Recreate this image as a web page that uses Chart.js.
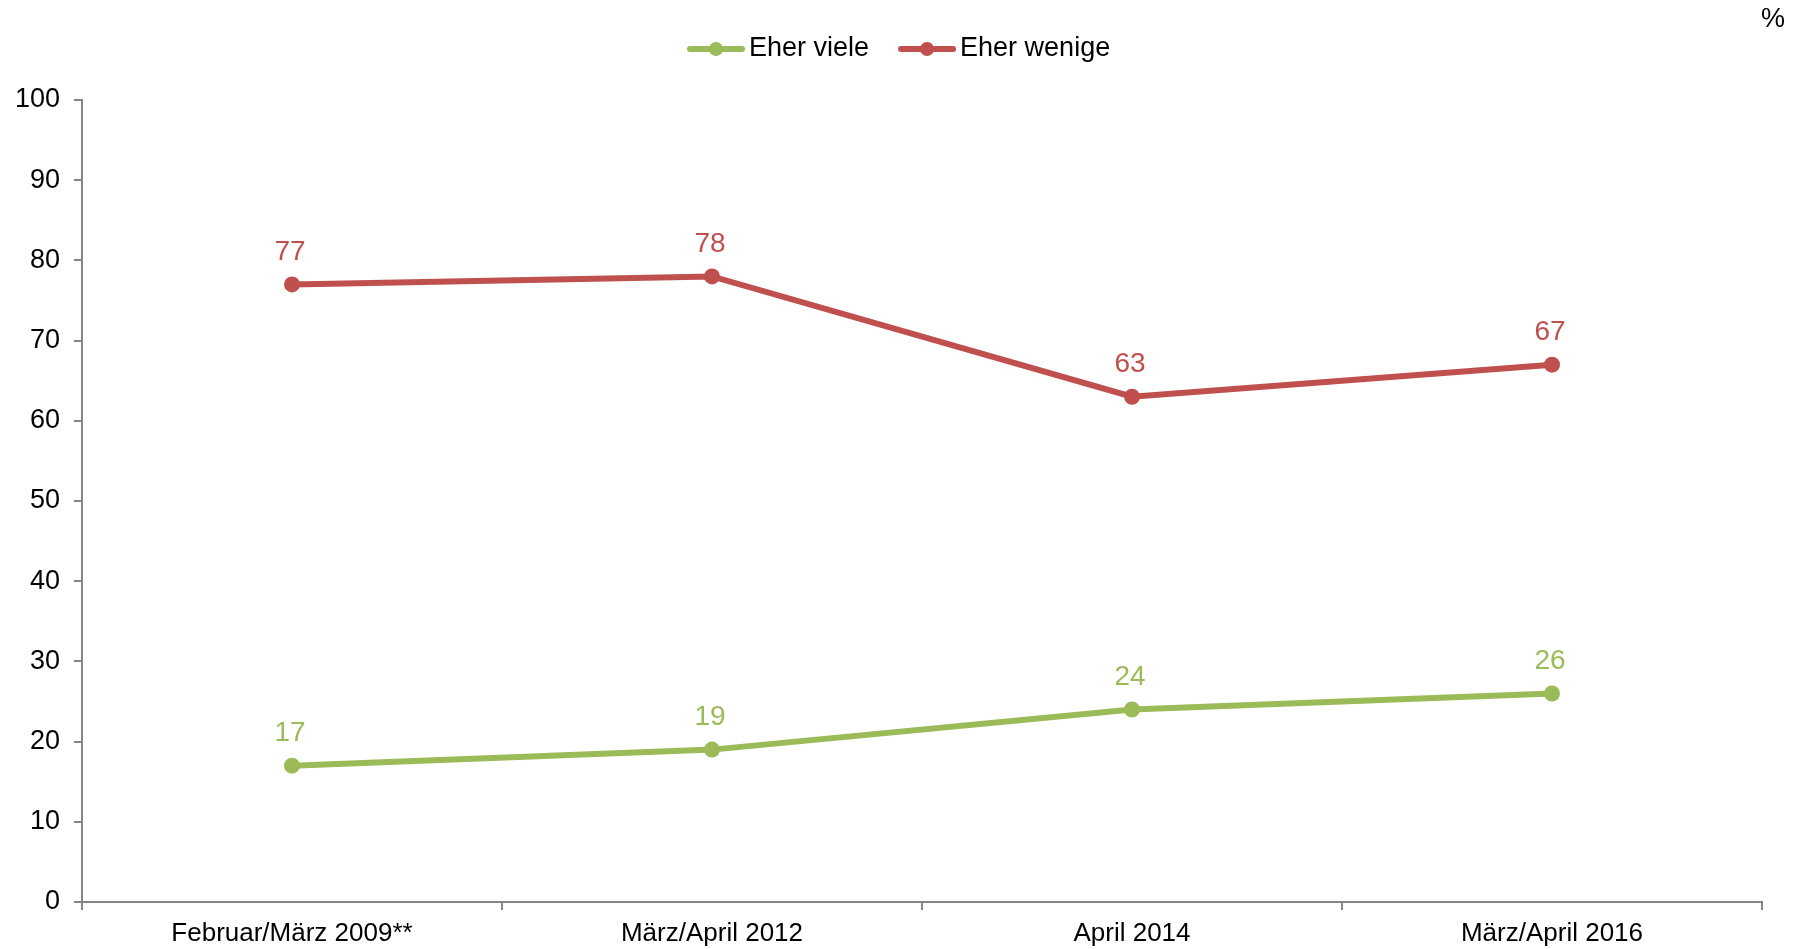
<!DOCTYPE html>
<html lang="de">
<head>
  <meta charset="UTF-8" />
  <title>Eher viele / Eher wenige</title>
  <script src="https://cdn.jsdelivr.net/npm/chart.js"></script>
  <style>
    body {
      margin: 0;
      background: #fff;
    }
    .chart-box {
      width: 1801px;
      height: 949px;
    }
  </style>
</head>
<body>
  <div class="chart-box"><canvas id="chart"></canvas></div>

  <script>
    // Daten
    const labels = ["Februar/März 2009**", "März/April 2012", "April 2014", "März/April 2016"];
    const eherViele = [17, 19, 24, 26];
    const eherWenige = [77, 78, 63, 67];
    const yTicks = [0, 10, 20, 30, 40, 50, 60, 70, 80, 90, 100];

    const FONT = "'Liberation Sans', Arial, sans-serif";
    const AXIS = "#868686";

    // Werte über den Punkten
    const valueLabels = {
      id: "valueLabels",
      afterDatasetsDraw(chart) {
        const ctx = chart.ctx;
        ctx.save();
        ctx.font = "28px " + FONT;
        ctx.textAlign = "center";
        ctx.textBaseline = "middle";
        chart.data.datasets.forEach((ds, i) => {
          chart.getDatasetMeta(i).data.forEach((pt, j) => {
            ctx.fillStyle = ds.borderColor;
            ctx.fillText(ds.data[j], pt.x - 2, pt.y - 32);
          });
        });
        ctx.restore();
      }
    };

    // Legende im Stil Linie + Punkt, und "%" oben rechts
    const lineLegend = {
      id: "lineLegend",
      afterDraw(chart) {
        const ctx = chart.ctx;
        ctx.save();
        ctx.font = "27px " + FONT;
        ctx.textBaseline = "middle";
        let x = 690;
        const y = 49;
        chart.data.datasets.forEach(ds => {
          ctx.strokeStyle = ds.borderColor;
          ctx.lineWidth = 6;
          ctx.lineCap = "round";
          ctx.beginPath();
          ctx.moveTo(x, y);
          ctx.lineTo(x + 52, y);
          ctx.stroke();
          ctx.fillStyle = ds.borderColor;
          ctx.beginPath();
          ctx.arc(x + 26, y, 7, 0, Math.PI * 2);
          ctx.fill();
          ctx.fillStyle = "#000";
          ctx.textAlign = "left";
          ctx.fillText(ds.label, x + 59, y);
          x += 59 + ctx.measureText(ds.label).width + 32;
        });
        ctx.textAlign = "center";
        ctx.fillText("%", 1773, 20);
        ctx.restore();
      }
    };

    new Chart(document.getElementById("chart"), {
      type: "line",
      data: {
        labels: labels,
        datasets: [
          {
            label: "Eher viele",
            data: eherViele,
            borderColor: "#9BBB59",
            backgroundColor: "#9BBB59",
            borderWidth: 6,
            pointRadius: 8,
            pointBorderWidth: 0,
            tension: 0
          },
          {
            label: "Eher wenige",
            data: eherWenige,
            borderColor: "#C0504D",
            backgroundColor: "#C0504D",
            borderWidth: 6,
            pointRadius: 8,
            pointBorderWidth: 0,
            tension: 0
          }
        ]
      },
      options: {
        responsive: true,
        maintainAspectRatio: false,
        animation: false,
        layout: { padding: { top: 100, right: 39, left: 0, bottom: 0 } },
        plugins: {
          legend: { display: false },
          tooltip: { enabled: false }
        },
        scales: {
          x: {
            offset: true,
            grid: { offset: true, drawOnChartArea: false, drawTicks: true, tickLength: 8, color: AXIS, lineWidth: 2 },
            border: { color: AXIS, width: 2 },
            ticks: { color: "#000", font: { family: FONT, size: 26 }, padding: 8, maxRotation: 0 },
            afterFit(scale) { scale.height = 47; }
          },
          y: {
            min: 0,
            max: 100,
            afterBuildTicks(scale) { scale.ticks = yTicks.map(v => ({ value: v })); },
            grid: { drawOnChartArea: false, drawTicks: true, tickLength: 8, color: AXIS, lineWidth: 2 },
            border: { color: AXIS, width: 2 },
            ticks: { color: "#000", font: { family: FONT, size: 27 }, padding: 14 },
            afterFit(scale) { scale.width = 82; }
          }
        }
      },
      plugins: [valueLabels, lineLegend]
    });
  </script>
</body>
</html>
